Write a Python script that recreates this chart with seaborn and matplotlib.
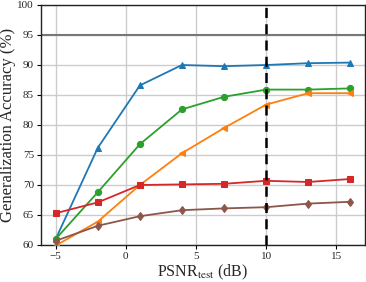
import matplotlib
matplotlib.use("Agg")
import matplotlib.pyplot as plt
import seaborn as sns
import pandas as pd

psnr = [-5, -2, 1, 4, 7, 10, 13, 16]
blue_acc = [61.0, 76.2, 86.6, 90.0, 89.8, 90.0, 90.3, 90.4]
green_acc = [61.0, 68.8, 76.8, 82.6, 84.7, 85.9, 85.9, 86.1]
orange_acc = [59.9, 63.9, 70.0, 75.3, 79.5, 83.4, 85.3, 85.3]
red_acc = [65.3, 67.1, 70.0, 70.1, 70.2, 70.7, 70.5, 71.0]
brown_acc = [60.7, 63.2, 64.8, 65.8, 66.1, 66.3, 66.9, 67.2]
ref_line = 95
train_psnr = 10

sns.set_style("white")
plt.rcParams['font.family'] = ['Liberation Serif', 'DejaVu Serif']
plt.rcParams['mathtext.fontset'] = 'stix'

fig = plt.figure(figsize=(3.66, 2.82), dpi=100)
ax = fig.add_axes([41/366, 1-245/282, 324/366, 240/282])

series = [
    (blue_acc, '#1f77b4', '^'),
    (green_acc, '#2ca02c', 'o'),
    (orange_acc, '#ff7f0e', '<'),
    (red_acc, '#d62728', 's'),
    (brown_acc, '#8c564b', 'd'),
]
ax.grid(True, color='#cccccc', linewidth=1.0, zorder=0)
ax.set_axisbelow(True)
for vals, c, m in series:
    df = pd.DataFrame({'x': psnr, 'y': vals})
    sns.lineplot(data=df, x='x', y='y', ax=ax, color=c, marker=m, markersize=4.5,
                 markeredgecolor=c, linewidth=1.3, zorder=3)

ax.axhline(ref_line, color='#777777', linewidth=1.5, zorder=2)
ax.axvline(train_psnr, color='black', linestyle='--', linewidth=1.8, dashes=(4, 2.5), zorder=4)

ax.set_ylim(60, 100)
ax.set_xlim(-6.05, 17.05)
ax.set_xticks([-5, 0, 5, 10, 15])
ax.set_yticks([60, 65, 70, 75, 80, 85, 90, 95, 100])
ax.tick_params(axis='both', labelsize=8, length=3, width=0.8, color='black', direction='out', bottom=True, left=True, pad=2)
for s in ax.spines.values():
    s.set_color('#222222')
    s.set_linewidth(1.0)
ax.set_xlabel(r'PSNR$_{\mathrm{test}}$ (dB)', fontsize=11.5, labelpad=1)
ax.set_ylabel('Generalization Accuracy (%)', fontsize=12, labelpad=1)

fig.savefig('out.png', dpi=100)
